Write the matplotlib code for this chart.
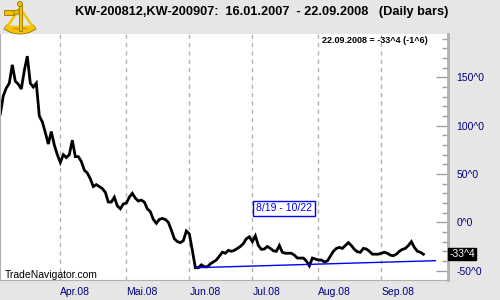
import matplotlib
matplotlib.use('Agg')
import matplotlib.pyplot as plt
from matplotlib.patches import Wedge, Rectangle, Polygon
from matplotlib.ticker import MultipleLocator

plt.rcParams['font.family'] = ['Liberation Sans', 'DejaVu Sans']

# daily closes of the spread, 03.03.2008 .. 22.09.2008 (one value per trading day)
spread = [112, 131, 139, 144, 163, 146, 143, 138, 157, 172,
          144, 140, 144, 110, 104, 93, 81, 94, 80, 70,
          62, 70, 67, 70, 85, 68, 68, 63, 54, 51,
          45, 37, 39, 37, 35, 31, 21, 21, 26, 17,
          14, 19, 20, 26, 30, 25, 22, 23, 21, 14,
          11, 3, -1, 3, 4, 3, 0, -8, -17, -20,
          -21, -19, -9, -12, -29, -47, -47, -44, -46, -46,
          -43, -41, -39, -35, -31, -32, -29, -30, -29, -27,
          -25, -22, -17, -15, -20, -14, -24, -28, -27.6, -25,
          -27, -29.5, -30, -24, -31, -32, -32, -32, -34, -37,
          -37, -37, -40, -45, -37, -38, -39, -39, -41, -40,
          -35, -30, -27, -26, -27, -24, -21, -24, -28, -30.5,
          -31, -27, -27.6, -30, -33, -33, -33, -32, -31, -32,
          -34, -34.5, -33, -30, -28, -27, -24, -20, -26, -30,
          -31, -33]
days = list(range(len(spread)))

# first trading day of each month (bar index)
month_pos = [20, 42, 63, 84, 106, 127]
month_labels = ['Apr.08', 'Mai.08', 'Jun.08', 'Jul.08', 'Aug.08', 'Sep.08']

# trend line drawn from the June low
trend_x = [65, 145]
trend_y = [-47, -39.7]

y_major = [-50, 0, 50, 100, 150]
last_value = '-33^4'

bg = '#e6e6e6'
navy = '#000080'

fig = plt.figure(figsize=(5, 3), dpi=100, facecolor=bg)
ax = fig.add_axes([0, 20 / 300, 448 / 500, 246 / 300])
ax.set_facecolor('white')

ax.plot(days, spread, color='black', lw=2, solid_joinstyle='miter')
ax.plot(trend_x, trend_y, color='#0000ff', lw=1)

ax.set_xlim(-0.1, 149.2)
ax.set_ylim(-59.7, 194.9)

ax.set_xticks(month_pos)
ax.set_xticklabels(month_labels, ha='left', color=navy, fontsize=7.5)
ax.tick_params(axis='x', length=0, pad=5)
ax.grid(axis='x', color='#b4b4b4', ls=(0, (3, 3)), lw=1)

ax.yaxis.tick_right()
ax.set_yticks(y_major)
ax.set_yticklabels([f'{v}^0' for v in y_major], color=navy, fontsize=7.5)
ax.yaxis.set_minor_locator(MultipleLocator(10))
ax.tick_params(axis='y', which='major', direction='in', length=9, width=1,
               color='#a0a0a0', pad=6)
ax.tick_params(axis='y', which='minor', direction='in', length=4, width=1,
               color='#a0a0a0')

ax.spines['top'].set_visible(False)
ax.spines['right'].set_color('#b0b0b0')
ax.spines['right'].set_linewidth(2)
ax.spines['left'].set_color('#b0b0b0')
ax.spines['bottom'].set_color('#b0b0b0')

# last value marker on the axis
ax.text(1.003, spread[-1], last_value, transform=ax.get_yaxis_transform(),
        color='white', fontsize=7.5, va='center', ha='left',
        bbox=dict(boxstyle='square,pad=0.12', fc='black', ec='black'))

fig.text(0.15, 0.96, 'KW-200812,KW-200907:  16.01.2007  - 22.09.2008   (Daily bars)',
         fontsize=9.2, fontweight='bold', va='center', ha='left')
fig.text(428 / 500, 1 - 40.5 / 300, '22.09.2008 = -33^4 (-1^6)',
         fontsize=6.5, fontweight='bold', va='center', ha='right')
fig.text(5 / 500, 1 - 275.5 / 300, 'TradeNavigator.com', fontsize=7.5,
         va='center', ha='left')
fig.text(284 / 500, 1 - 208.3 / 300, '8/19 - 10/22', fontsize=7.5, color='#0000ff',
         va='center', ha='center',
         bbox=dict(boxstyle='square,pad=0.25', fc='white', ec='#0000ff', lw=1))

# sextant logo, top left, drawn in pixel units
lg = fig.add_axes([0, 1 - 36 / 300, 40 / 500, 36 / 300])
lg.set_xlim(0, 40)
lg.set_ylim(36, 0)
lg.axis('off')
gold = '#f2c200'
edge = '#9a7400'
lg.add_patch(Wedge((20, 6), 28, 55, 125, width=5, fc=gold, ec=edge, lw=0.6))
lg.add_patch(Polygon([(7, 27), (33, 27), (20, 8)], closed=True, fc='none',
                     ec=gold, lw=1.8))
lg.add_patch(Rectangle((18.5, 4), 3, 27, fc=gold, ec=edge, lw=0.6))
lg.add_patch(Rectangle((4, 10), 10, 4.5, fc=gold, ec=edge, lw=0.6))
lg.add_patch(Polygon([(14, 11), (19, 9.5), (19, 14), (14, 14.5)], closed=True,
                     fc=gold, ec=edge, lw=0.6))
lg.add_patch(Wedge((20, 4), 2.5, 0, 360, fc=gold, ec=edge, lw=0.6))

fig.savefig('out.png', dpi=100, facecolor=bg)
